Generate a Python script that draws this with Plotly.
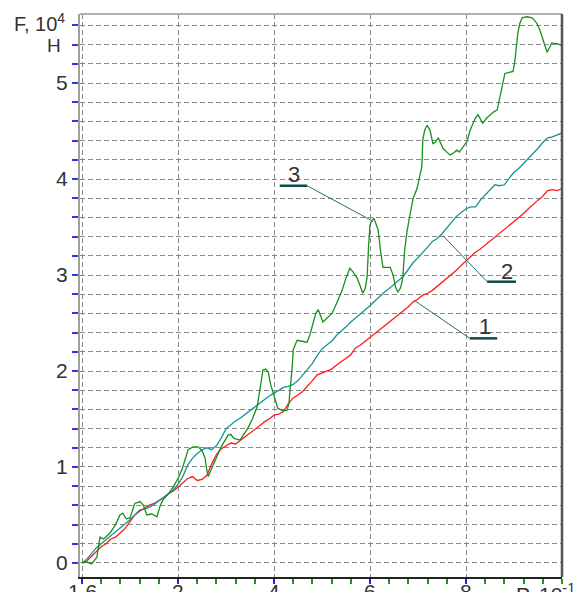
import plotly.graph_objects as go

# ---------------- data ----------------
x_step = [round(i * 0.1, 1) for i in range(101)]

red_y = [0.00, 0.02, 0.07, 0.12, 0.17, 0.20, 0.25, 0.27, 0.32, 0.36,
         0.43, 0.50, 0.54, 0.57, 0.60, 0.62, 0.65, 0.68, 0.72, 0.75,
         0.79, 0.83, 0.88, 0.90, 0.86, 0.87, 0.91, 1.03, 1.13, 1.19,
         1.22, 1.25, 1.24, 1.28, 1.31, 1.35, 1.40, 1.43, 1.47, 1.50,
         1.54, 1.55, 1.58, 1.66, 1.72, 1.75, 1.79, 1.84, 1.90, 1.96,
         1.98, 2.00, 2.02, 2.06, 2.10, 2.14, 2.17, 2.24, 2.27, 2.31,
         2.35, 2.38, 2.43, 2.47, 2.51, 2.55, 2.58, 2.63, 2.67, 2.72,
         2.75, 2.79, 2.81, 2.84, 2.88, 2.92, 2.96, 3.01, 3.05, 3.10,
         3.15, 3.19, 3.24, 3.27, 3.31, 3.35, 3.39, 3.44, 3.48, 3.52,
         3.56, 3.60, 3.64, 3.69, 3.74, 3.78, 3.82, 3.88, 3.89, 3.88,
         3.90]

teal_y = [0.00, 0.04, 0.10, 0.16, 0.20, 0.24, 0.28, 0.32, 0.36, 0.40,
          0.45, 0.50, 0.55, 0.56, 0.58, 0.61, 0.65, 0.68, 0.72, 0.76,
          0.82, 0.90, 1.02, 1.09, 1.14, 1.18, 1.20, 1.18, 1.22, 1.30,
          1.40, 1.44, 1.48, 1.51, 1.55, 1.58, 1.63, 1.67, 1.71, 1.74,
          1.77, 1.80, 1.83, 1.84, 1.86, 1.90, 1.96, 2.01, 2.08, 2.16,
          2.23, 2.27, 2.31, 2.37, 2.41, 2.46, 2.51, 2.55, 2.60, 2.64,
          2.68, 2.73, 2.78, 2.82, 2.86, 2.90, 2.94, 2.99, 3.06, 3.13,
          3.18, 3.23, 3.29, 3.35, 3.38, 3.43, 3.49, 3.55, 3.61, 3.65,
          3.69, 3.71, 3.71, 3.78, 3.83, 3.89, 3.94, 3.93, 3.94, 4.01,
          4.07, 4.11, 4.16, 4.21, 4.27, 4.32, 4.38, 4.43, 4.44, 4.46,
          4.48]

green_x = [0, 0.1, 0.2, 0.31, 0.375, 0.45, 0.58, 0.7, 0.79, 0.85, 0.92, 1.0,
           1.1, 1.21, 1.28, 1.35, 1.45, 1.56, 1.63, 1.69, 1.8, 1.9, 2.0, 2.08,
           2.15, 2.21, 2.31, 2.42, 2.5, 2.56, 2.6, 2.63, 2.68, 2.73, 2.82, 2.9,
           2.97, 3.04, 3.1, 3.16, 3.22, 3.29, 3.36, 3.46, 3.55, 3.65, 3.72, 3.77,
           3.83, 3.88, 3.93, 3.98, 4.04, 4.08, 4.17, 4.27, 4.31, 4.35, 4.38, 4.4,
           4.44, 4.48, 4.58, 4.69, 4.75, 4.81, 4.87, 4.92, 4.97, 5.02, 5.1, 5.21,
           5.3, 5.42, 5.5, 5.58, 5.65, 5.73, 5.8, 5.85, 5.9, 5.94, 5.97, 6.0,
           6.04, 6.08, 6.12, 6.17, 6.22, 6.27, 6.35, 6.42, 6.48, 6.53, 6.58, 6.63,
           6.67, 6.69, 6.72, 6.77, 6.83, 6.9, 6.98, 7.04, 7.08, 7.1, 7.14, 7.19,
           7.25, 7.31, 7.36, 7.42, 7.47, 7.52, 7.6, 7.67, 7.74, 7.81, 7.86, 7.9,
           7.94, 8.02, 8.08, 8.14, 8.19, 8.25, 8.3, 8.35, 8.42, 8.5, 8.58, 8.65,
           8.71, 8.77, 8.81, 8.9, 8.98, 9.02, 9.05, 9.08, 9.12, 9.17, 9.27, 9.38,
           9.43, 9.48, 9.54, 9.6, 9.65, 9.69, 9.73, 9.79, 9.85, 9.9, 9.95, 10.0]
green_y = [0.00, 0.01, -0.01, 0.06, 0.27, 0.25, 0.31, 0.40, 0.50, 0.52, 0.46, 0.47,
           0.62, 0.64, 0.60, 0.50, 0.51, 0.48, 0.60, 0.66, 0.72, 0.79, 0.88, 0.97,
           1.08, 1.18, 1.21, 1.21, 1.17, 1.10, 0.97, 0.90, 0.96, 1.02, 1.12, 1.21,
           1.27, 1.33, 1.34, 1.30, 1.29, 1.28, 1.33, 1.41, 1.50, 1.63, 1.85, 2.01,
           2.02, 1.99, 1.86, 1.77, 1.67, 1.61, 1.59, 1.59, 1.66, 1.85, 2.05, 2.22,
           2.28, 2.32, 2.31, 2.30, 2.38, 2.50, 2.60, 2.64, 2.58, 2.51, 2.55, 2.60,
           2.70, 2.84, 2.97, 3.07, 3.03, 2.97, 2.88, 2.81, 2.86, 2.98, 3.30, 3.52,
           3.57, 3.59, 3.54, 3.47, 3.25, 3.08, 3.08, 3.08, 3.00, 2.88, 2.82, 2.86,
           2.93, 3.02, 3.25, 3.45, 3.62, 3.80, 3.90, 4.02, 4.13, 4.41, 4.51, 4.56,
           4.51, 4.37, 4.38, 4.43, 4.38, 4.32, 4.28, 4.25, 4.27, 4.30, 4.28, 4.31,
           4.33, 4.39, 4.50, 4.58, 4.63, 4.67, 4.62, 4.58, 4.63, 4.67, 4.70, 4.72,
           4.85, 5.01, 5.10, 5.11, 5.12, 5.24, 5.40, 5.52, 5.62, 5.68, 5.69, 5.68,
           5.65, 5.62, 5.55, 5.45, 5.36, 5.32, 5.36, 5.42, 5.41, 5.41, 5.40, 5.39]

x_tick_vals = [0, 2, 4, 6, 8]
x_tick_text = ["1.6", "2", "4", "6", "8"]
y_tick_vals = [0, 1, 2, 3, 4, 5]
y_tick_text = ["0", "1", "2", "3", "4", "5"]

# curve labels: (text, text_x, text_y, underline_x0, underline_x1, underline_y, target_x, target_y)
curve_labels = [
    ("3", 4.42, 4.05, 4.12, 4.69, 3.93, 6.06, 3.56),
    ("2", 8.85, 3.04, 8.44, 9.04, 2.93, 7.52, 3.41),
    ("1", 8.40, 2.46, 8.08, 8.65, 2.34, 6.94, 2.73),
]

RED = "#ff1a1a"
TEAL = "#179494"
GREEN = "#17901c"
FONT = "Liberation Sans, Arial, sans-serif"

fig = go.Figure()
fig.add_trace(go.Scatter(x=x_step, y=red_y, mode="lines",
                         line=dict(color=RED, width=1.3), name="1"))
fig.add_trace(go.Scatter(x=x_step, y=teal_y, mode="lines",
                         line=dict(color=TEAL, width=1.3), name="2"))
fig.add_trace(go.Scatter(x=green_x, y=green_y, mode="lines",
                         line=dict(color=GREEN, width=1.3), name="3"))

for txt, tx, ty, ux0, ux1, uy, px, py in curve_labels:
    fig.add_shape(type="line", x0=ux1 if txt == "3" else ux0, y0=uy, x1=px, y1=py,
                  line=dict(color="#2a6a6a", width=1))
    fig.add_shape(type="line", x0=ux0, y0=uy, x1=ux1, y1=uy,
                  line=dict(color="#0e4a4a", width=2.5))
    fig.add_annotation(x=tx, y=ty, text=txt, showarrow=False,
                       font=dict(family=FONT, size=22, color="#333"))

# borders (top and right)
fig.add_shape(type="line", xref="paper", yref="paper", x0=0, x1=1, y0=1, y1=1,
              line=dict(color="#b0b0b0", width=2))
fig.add_shape(type="line", xref="paper", yref="paper", x0=1, x1=1, y0=0, y1=1,
              line=dict(color="#555", width=2.5))

# x tick labels (drawn close under the axis, cut by the page edge as in the source)
for v, t in zip(x_tick_vals, x_tick_text):
    fig.add_annotation(x=v, xref="x", y=-0.001, yref="paper", yanchor="top",
                       xanchor="center", text=t, showarrow=False,
                       font=dict(family=FONT, size=21, color="#333"))

# axis titles
fig.add_annotation(xref="paper", yref="paper", x=-0.141, y=0.985, xanchor="left",
                   yanchor="middle", text="F, 10<sup>4</sup>", showarrow=False,
                   font=dict(family=FONT, size=20, color="#333"))
fig.add_annotation(xref="paper", yref="paper", x=-0.053, y=0.944, xanchor="center",
                   yanchor="middle", text="H", showarrow=False,
                   font=dict(family=FONT, size=19, color="#333"))
fig.add_annotation(xref="paper", yref="paper", x=0.9, y=-0.001, xanchor="left",
                   yanchor="top", text="P, 10<sup>-1</sup> МПа", showarrow=False,
                   font=dict(family=FONT, size=21, color="#333"))

grid_color = "#8a8a8a"
fig.update_layout(
    width=578, height=592,
    margin=dict(l=80, r=16, t=14, b=15, autoexpand=False),
    paper_bgcolor="white", plot_bgcolor="white",
    showlegend=False,
    font=dict(family=FONT, size=19, color="#333"),
    xaxis=dict(
        automargin=False, showticklabels=False,
        range=[-0.0417, 10.0], tickmode="array", tickvals=x_tick_vals,
        ticks="outside", ticklen=5, tickwidth=1.5,
        tickcolor="#2020ff", showline=True, linecolor="#222", linewidth=2,
        showgrid=True, gridcolor=grid_color, gridwidth=1, griddash="5px,3px",
        zeroline=False,
        minor=dict(tick0=0, dtick=0.4, ticks="outside", ticklen=5,
                   tickcolor="#1a9a1a", tickwidth=1.5, showgrid=False),
    ),
    yaxis=dict(
        automargin=False,
        range=[-0.146, 5.719], tickmode="array", tickvals=y_tick_vals,
        ticktext=y_tick_text, ticks="outside", ticklen=6, tickwidth=1.5,
        tickcolor="#3030ff", showline=True, linecolor="#a0a0a0", linewidth=2,
        showgrid=True, gridcolor=grid_color, gridwidth=1, griddash="5px,3px",
        zeroline=False, tickfont=dict(size=21, color="#333"),
        minor=dict(tick0=0, dtick=0.2, ticks="outside", ticklen=6,
                   tickcolor="#3030ff", tickwidth=1.5, showgrid=True,
                   gridcolor=grid_color, gridwidth=1, griddash="5px,3px"),
    ),
)

fig.write_html("out.html", config={"displayModeBar": False},
               post_script="document.body.style.margin='0';document.body.style.overflow='hidden';")
